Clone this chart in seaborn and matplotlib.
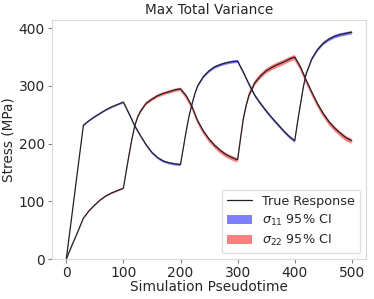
import numpy as np
import pandas as pd
import matplotlib
matplotlib.use("Agg")
import matplotlib.pyplot as plt
import seaborn as sns

# ─── data ──────────────────────────────────────────────────────
t11 = [0, 10, 20, 30, 40, 50, 60, 70, 80, 90, 100,
       110, 120, 130, 140, 150, 160, 170, 180, 190, 200,
       205, 210, 215, 220, 225, 230, 240, 250, 260, 270, 280, 290, 300,
       310, 320, 330, 340, 350, 360, 370, 380, 390, 400,
       405, 410, 415, 420, 430, 440, 450, 460, 470, 480, 490, 500]
s11 = [0, 77, 155, 232, 240, 247, 253, 259, 264, 268, 272,
       252, 231, 214, 198, 185, 176, 170, 167, 165, 164,
       193, 222, 248, 268, 286, 300, 316, 326, 333, 337, 340, 342, 343,
       324, 303, 284, 270, 257, 245, 234, 223, 213, 205,
       238, 268, 298, 321, 347, 363, 374, 381, 386, 389, 391, 393]

t22 = [0, 10, 20, 30, 40, 50, 60, 70, 80, 90, 100,
       105, 110, 115, 120, 125, 130, 140, 150, 160, 170, 180, 190, 200,
       210, 220, 230, 240, 250, 260, 270, 280, 290, 300,
       305, 310, 315, 320, 330, 340, 350, 360, 370, 380, 390, 400,
       410, 420, 430, 440, 450, 460, 470, 480, 490, 500]
s22 = [0, 24, 47, 71, 84, 94, 103, 110, 115, 119, 123,
       152, 181, 208, 231, 246, 256, 270, 277, 283, 287, 290, 293, 295,
       283, 265, 240, 222, 208, 197, 188, 181, 176, 172,
       208, 243, 266, 284, 305, 317, 326, 332, 337, 341, 346, 350,
       333, 310, 289, 269, 252, 238, 227, 218, 210, 205]

# 95% CI half width (MPa) per 100-step load segment
seg_edges = [0, 100, 200, 300, 400, 500]
ci11 = [1.5, 2.0, 2.5, 2.5, 3.0]
ci22 = [1.5, 3.0, 4.0, 4.5, 4.5]


def ci_width(t, ci):
    idx = np.clip(np.searchsorted(seg_edges, t, side="left") - 1, 0, len(ci) - 1)
    return np.asarray(ci)[idx]


df11 = pd.DataFrame({"t": t11, "s": s11})
df22 = pd.DataFrame({"t": t22, "s": s22})
df11["w"] = ci_width(df11["t"].to_numpy(), ci11)
df22["w"] = ci_width(df22["t"].to_numpy(), ci22)

sns.set_style("white", {"axes.edgecolor": ".85", "xtick.bottom": True, "ytick.left": True,
                        "xtick.color": ".5", "ytick.color": ".5"})
plt.rcParams["font.family"] = ["DejaVu Sans"]

fig = plt.figure(figsize=(3.74, 2.99), dpi=100)
ax = fig.add_axes([0.139, 0.133, 0.840, 0.800])

ax.fill_between(df11["t"] - 1.0, df11["s"] - df11["w"], df11["s"] + df11["w"],
                color="blue", alpha=0.5, lw=0, label=r"$\sigma_{11}$ 95% CI")
ax.fill_between(df22["t"] - 1.5, df22["s"] - df22["w"], df22["s"] + df22["w"],
                color="red", alpha=0.5, lw=0, label=r"$\sigma_{22}$ 95% CI")
sns.lineplot(data=df11, x="t", y="s", color="#222222", lw=0.9, estimator=None,
             label="True Response", ax=ax)
sns.lineplot(data=df22, x="t", y="s", color="#222222", lw=0.9, estimator=None, ax=ax)

ax.set_xlim(-25, 525)
ax.set_ylim(0, 414)
ax.set_xticks([0, 100, 200, 300, 400, 500])
ax.set_yticks([0, 100, 200, 300, 400])
ax.tick_params(length=3, width=0.8, labelsize=10, labelcolor=".15", pad=2)
ax.set_title("Max Total Variance", fontsize=9.8, color=".15", pad=4)
ax.set_xlabel("Simulation Pseudotime", fontsize=9.8, color=".15", labelpad=0)
ax.set_ylabel("Stress (MPa)", fontsize=9.8, color=".15", labelpad=2)

h, l = ax.get_legend_handles_labels()
order = [l.index("True Response"), l.index(r"$\sigma_{11}$ 95% CI"), l.index(r"$\sigma_{22}$ 95% CI")]
ax.legend([h[i] for i in order], [l[i] for i in order], loc="lower right",
          fontsize=9.2, frameon=True, edgecolor=".85", borderaxespad=0.45,
          handlelength=2.0, labelspacing=0.4, borderpad=0.4)

fig.savefig("out.png", dpi=100)
